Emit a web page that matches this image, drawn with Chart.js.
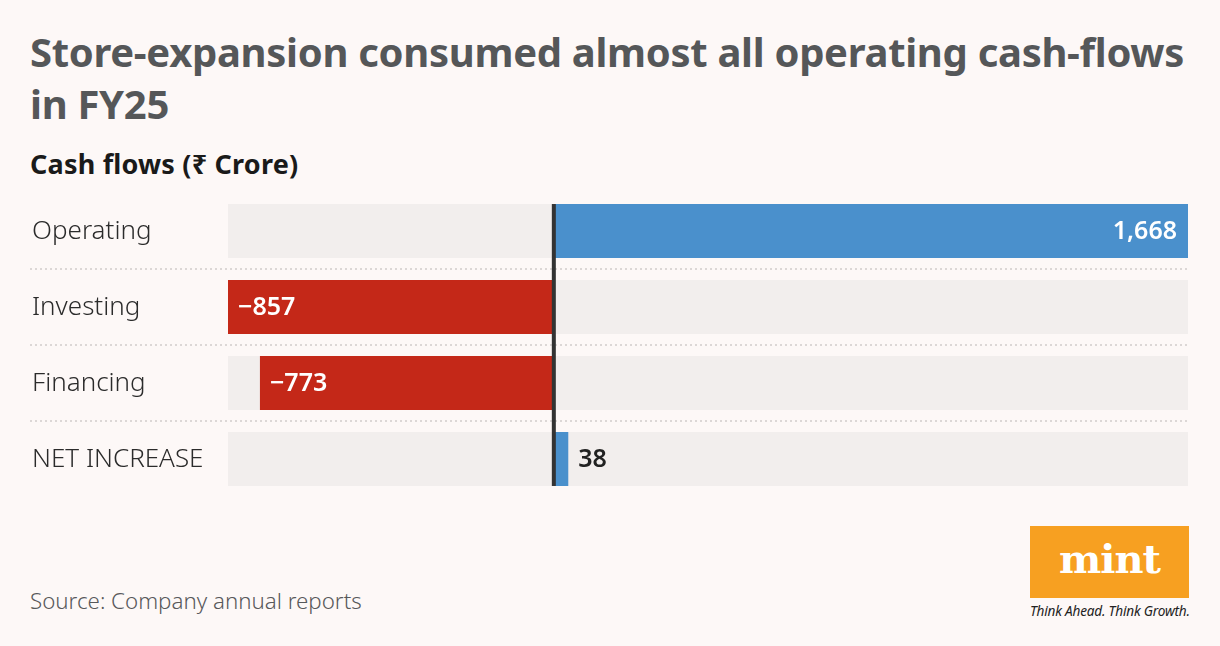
<!DOCTYPE html>
<html>
<head>
<meta charset="utf-8">
<script src="https://cdn.jsdelivr.net/npm/chart.js@4"></script>
<style>
    html, body { margin: 0; padding: 0; }
    body { width: 1220px; height: 646px; background: #fdf8f7; position: relative; overflow: hidden; font-family: 'Noto Sans', sans-serif; }
    h1 { position: absolute; left: 30px; top: 26px; width: 1180px; margin: 0; font-size: 40px; line-height: 52px; font-weight: 700; color: #555759; letter-spacing: -0.3px; }
    h2 { position: absolute; left: 30px; top: 145px; margin: 0; font-size: 27px; font-weight: 700; color: #1a1a1a; letter-spacing: 0.2px; }
    #chartBox { position: absolute; left: 0; top: 193px; width: 1220px; height: 304px; }
    .source { position: absolute; left: 30px; top: 585px; font-size: 22.3px; font-weight: 300; color: #58595b; }
    .logo { position: absolute; left: 1030px; top: 526px; width: 159px; height: 72px; background: #f7a021; color: #fff; text-align: center; font-family: 'DejaVu Serif', serif; font-weight: 700; font-size: 40px; line-height: 66px; letter-spacing: -1px; }
    .tag { position: absolute; left: 1030px; top: 601px; width: 165px; font-size: 13.6px; font-style: italic; color: #222; white-space: nowrap; letter-spacing: -0.2px; }
</style>
</head>
<body>
<h1>Store-expansion consumed almost all operating cash-flows in FY25</h1>
<h2>Cash flows (₹ Crore)</h2>
<div id="chartBox"><canvas id="cashChart"></canvas></div>
<div class="source">Source: Company annual reports</div>
<div class="logo">mint</div>
<div class="tag">Think Ahead. Think Growth.</div>
<script>
const categories = ['Operating', 'Investing', 'Financing', 'NET INCREASE'];
const cashFlows = [1668, -857, -773, 38];
const axisMin = -857;
const axisMax = 1668;

const formatValue = (v) => {
    const s = Math.abs(v).toLocaleString('en-IN');
    return v < 0 ? '\u2212' + s : s;
};

// grey track behind each bar, dotted row separators, zero line and labels
const decorations = {
    id: 'decorations',
    beforeDatasetsDraw(chart) {
        const { ctx, chartArea, scales } = chart;
        const meta = chart.getDatasetMeta(0);
        ctx.save();
        meta.data.forEach((bar) => {
            ctx.fillStyle = '#f2eeed';
            ctx.fillRect(chartArea.left, bar.y - bar.height / 2, chartArea.right - chartArea.left, bar.height);
        });
        ctx.strokeStyle = '#dcd7d6';
        ctx.lineWidth = 2;
        ctx.setLineDash([2, 3]);
        for (let i = 0; i < categories.length - 1; i++) {
            const y = Math.round((scales.y.getPixelForValue(i) + scales.y.getPixelForValue(i + 1)) / 2);
            ctx.beginPath();
            ctx.moveTo(30, y);
            ctx.lineTo(chartArea.right, y);
            ctx.stroke();
        }
        ctx.setLineDash([]);
        ctx.fillStyle = '#2b2b2b';
        ctx.font = '300 26px "Noto Sans"';
        ctx.textAlign = 'left';
        ctx.textBaseline = 'middle';
        categories.forEach((c, i) => {
            ctx.fillText(c, 32, scales.y.getPixelForValue(i) + 1);
        });
        ctx.restore();
    },
    afterDatasetsDraw(chart) {
        const { ctx, scales } = chart;
        const meta = chart.getDatasetMeta(0);
        const first = meta.data[0];
        const last = meta.data[meta.data.length - 1];
        const x0 = scales.x.getPixelForValue(0);
        ctx.save();
        ctx.fillStyle = '#333333';
        ctx.fillRect(x0 - 2, first.y - first.height / 2, 4, (last.y + last.height / 2) - (first.y - first.height / 2));

        ctx.font = '600 25px "Noto Sans"';
        ctx.textBaseline = 'middle';
        meta.data.forEach((bar, i) => {
            const v = cashFlows[i];
            const w = Math.abs(bar.x - bar.base);
            const label = formatValue(v);
            if (w < 80) {
                ctx.fillStyle = '#222222';
                ctx.textAlign = 'left';
                ctx.fillText(label, bar.x + 10, bar.y + 1);
            } else if (v < 0) {
                ctx.fillStyle = '#ffffff';
                ctx.textAlign = 'left';
                ctx.fillText(label, bar.x + 10, bar.y + 1);
            } else {
                ctx.fillStyle = '#ffffff';
                ctx.textAlign = 'right';
                ctx.fillText(label, bar.x - 11, bar.y + 1);
            }
        });
        ctx.restore();
    }
};

new Chart(document.getElementById('cashChart'), {
    type: 'bar',
    data: {
        labels: categories,
        datasets: [{
            data: cashFlows,
            backgroundColor: cashFlows.map(v => v < 0 ? '#c42818' : '#4a90cc'),
            categoryPercentage: 0.71,
            barPercentage: 1
        }]
    },
    options: {
        indexAxis: 'y',
        responsive: true,
        maintainAspectRatio: false,
        animation: false,
        layout: { padding: { left: 228, right: 32, top: 0, bottom: 0 } },
        scales: {
            x: { min: axisMin, max: axisMax, display: false },
            y: { display: false }
        },
        plugins: {
            legend: { display: false },
            tooltip: { enabled: false }
        }
    },
    plugins: [decorations]
});
</script>
</body>
</html>
